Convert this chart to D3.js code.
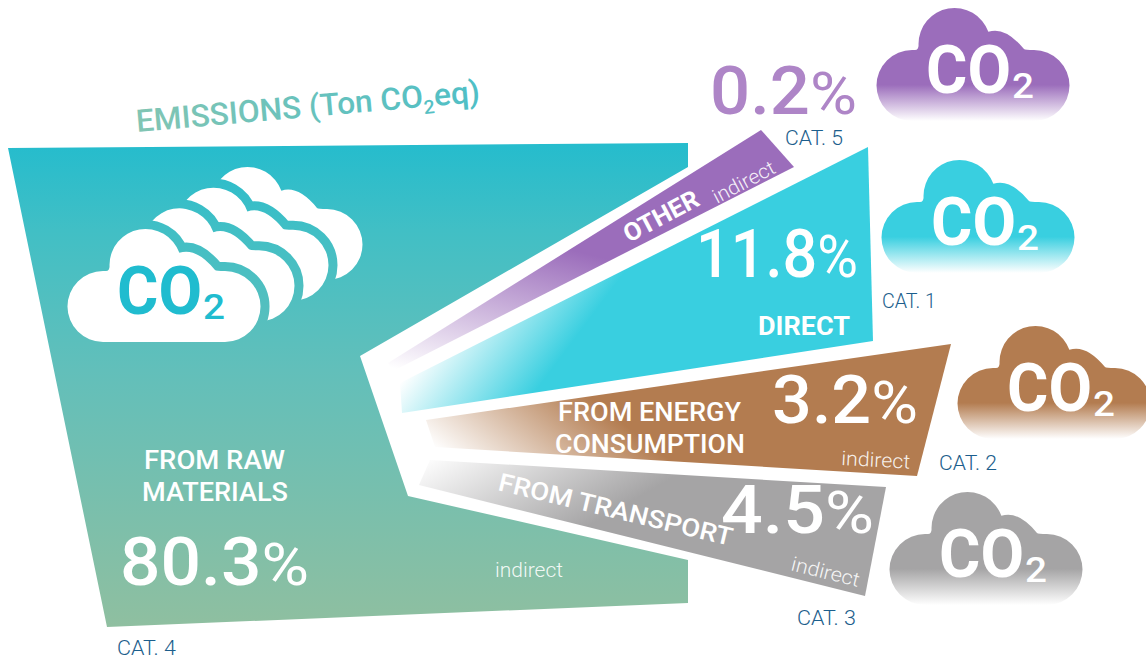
<!DOCTYPE html>
<html>
<head>
<meta charset="utf-8">
<script src="https://cdn.jsdelivr.net/npm/d3@7"></script>
<style>
  html, body { margin: 0; padding: 0; background: #fff; overflow: hidden; }
  text { font-family: Roboto, sans-serif; }
</style>
</head>
<body>
<div id="chart"></div>
<script>
// values
const keys = ["raw", "direct", "energy", "transport", "other"];
const shares = [80.3, 11.8, 3.2, 4.5, 0.2];
const cats = ["CAT. 4", "CAT. 1", "CAT. 2", "CAT. 3", "CAT. 5"];
const labelLines = [["FROM RAW", "MATERIALS"], ["DIRECT"], ["FROM ENERGY", "CONSUMPTION"], ["FROM TRANSPORT"], ["OTHER"]];
const scopeLabels = ["indirect", "", "indirect", "indirect", "indirect"];
const colors = ["#25bccd", "#39cfe0", "#b37c50", "#a5a4a5", "#9b6dbb"];

const width = 1146, height = 663;

// the wedges are drawn as an illustration, not to scale with the shares
const shapes = {
  raw: [[8, 148], [688, 143], [688, 167], [360, 356], [408, 496], [688, 560], [688, 603], [107, 627]],
  direct: [[868, 147], [873, 341], [402, 413], [400, 383]],
  energy: [[951, 344], [917, 476], [435, 447], [426, 420]],
  transport: [[886, 487], [865, 596], [419, 485], [430, 460]],
  other: [[761, 130], [794, 167], [393, 371], [388, 363]]
};
// start and end of each fade, white to full colour
const fades = {
  direct: [[400, 383], [491, 451]],
  energy: [[433, 447], [517, 340]],
  transport: [[428, 456], [498, 578]],
  other: [[392, 368], [430, 215]]
};
const cloudAt = { other: [877, 8], direct: [882, 160], energy: [958, 326], transport: [890, 492] };

// text boxes: x start, baseline, width, rotation
const shareBox = {
  raw: [120, 585, 189, 0], direct: [696, 277, 162, 0], energy: [772, 423, 146, 0],
  transport: [721, 533, 153, 0], other: [710, 114, 147, 0]
};
const nameBox = {
  raw: [[144, 469, 141, 0], [142, 501, 146, 0]],
  direct: [[758, 335, 92, 0]],
  energy: [[558, 421, 183, 0], [555, 453, 190, 0]],
  transport: [[497, 490, 240, 13.5]],
  other: [[629, 243, 82, -28]]
};
const scopeBox = {
  raw: [495, 577, 68, 0], energy: [841, 465, 69, 3],
  transport: [790, 570, 70, 14], other: [717, 204, 68, -28]
};
const catBox = {
  raw: [117, 655, 59], direct: [882, 308, 54], energy: [939, 470, 58],
  transport: [797, 625, 59], other: [785, 145, 58]
};

const svg = d3.select("#chart").append("svg")
  .attr("width", width)
  .attr("height", height)
  .style("display", "block");

const defs = svg.append("defs");

const mainGrad = defs.append("linearGradient")
  .attr("id", "grad-raw")
  .attr("gradientUnits", "userSpaceOnUse")
  .attr("x1", 0).attr("y1", 143).attr("x2", 0).attr("y2", 627);
mainGrad.append("stop").attr("offset", 0).attr("stop-color", colors[0]);
mainGrad.append("stop").attr("offset", 0.18).attr("stop-color", "#41bfc5");
mainGrad.append("stop").attr("offset", 0.47).attr("stop-color", "#62bfba");
mainGrad.append("stop").attr("offset", 1).attr("stop-color", "#8fbfa0");

keys.forEach((k, i) => {
  if (k === "raw") return;
  const f = fades[k];
  const g = defs.append("linearGradient")
    .attr("id", "grad-" + k)
    .attr("gradientUnits", "userSpaceOnUse")
    .attr("x1", f[0][0]).attr("y1", f[0][1]).attr("x2", f[1][0]).attr("y2", f[1][1]);
  g.append("stop").attr("offset", 0).attr("stop-color", colors[i]).attr("stop-opacity", 0);
  g.append("stop").attr("offset", 1).attr("stop-color", colors[i]);

  const c = defs.append("linearGradient")
    .attr("id", "cloud-" + k)
    .attr("x1", 0).attr("y1", 0).attr("x2", 0).attr("y2", 1);
  c.append("stop").attr("offset", 0.68).attr("stop-color", colors[i]);
  c.append("stop").attr("offset", 1).attr("stop-color", colors[i]).attr("stop-opacity", 0);
});

const titleGrad = defs.append("linearGradient").attr("id", "grad-title");
titleGrad.append("stop").attr("offset", 0).attr("stop-color", "#82c5b3");
titleGrad.append("stop").attr("offset", 1).attr("stop-color", "#4fbfc6");

// wedges
const line = d3.line().curve(d3.curveLinearClosed);
svg.append("g").selectAll("path")
  .data(keys)
  .join("path")
  .attr("d", k => line(shapes[k]))
  .attr("fill", k => `url(#grad-${k})`);

// cloud outline, 192 x 113, placed at x0,y0
function cloudD(x0, y0) {
  const p = d3.path();
  p.moveTo(x0 + 35, y0 + 113);
  p.arc(x0 + 35, y0 + 77.5, 35.5, Math.PI / 2, Math.PI * 1.5);
  p.lineTo(x0 + 38, y0 + 42);
  p.quadraticCurveTo(x0 + 42, y0 + 42, x0 + 41.5, y0 + 36);
  p.arc(x0 + 77.5, y0 + 36, 36, Math.PI, Math.PI * 1.89);
  p.quadraticCurveTo(x0 + 128, y0 + 18, x0 + 147, y0 + 41);
  p.quadraticCurveTo(x0 + 148, y0 + 42, x0 + 157, y0 + 42);
  p.arc(x0 + 157, y0 + 77.5, 35.5, -Math.PI / 2, Math.PI / 2);
  p.closePath();
  return p.toString();
}

// scales a text to the width it has in the picture
function fit(sel, box) {
  const w = sel.node().getComputedTextLength();
  const sx = box[2] / w;
  sel.attr("transform", `translate(${box[0]},${box[1]}) rotate(${box[3] || 0}) scale(${sx},1)`);
}

function co2(g, color) {
  const co = g.append("text")
    .attr("font-size", 66).attr("font-weight", 700).attr("fill", color).text("CO");
  fit(co, [49, 85, 85]);
  const two = g.append("text")
    .attr("font-size", 36).attr("font-weight", 500).attr("fill", color).text("2");
  fit(two, [135, 90, 22]);
}

// the stack of white clouds on the big wedge, back one first
const stack = d3.range(3, -1, -1);
const stackScale = d3.scaleLinear().domain([0, 3]).range([0, 102]);
const stackG = svg.append("g");
stackG.selectAll("path")
  .data(stack)
  .join("path")
  .attr("d", d => cloudD(68 + stackScale(d), 229 - stackScale(d) * 0.608))
  .attr("fill", "#fff")
  .attr("stroke", "url(#grad-raw)")
  .attr("stroke-width", 18)
  .attr("paint-order", "stroke");
co2(stackG.append("g").attr("transform", "translate(68,229)"), "#20bccf");

// coloured clouds
keys.filter(k => k !== "raw").forEach(k => {
  const g = svg.append("g").attr("transform", `translate(${cloudAt[k][0]},${cloudAt[k][1]})`);
  g.append("path").attr("d", cloudD(0, 0)).attr("fill", `url(#cloud-${k})`);
  co2(g, "#fff");
});

const pct = d3.format(".1f");

keys.forEach((k, i) => {
  // share
  const t = svg.append("text")
    .attr("font-size", 66)
    .attr("font-weight", 500)
    .attr("fill", k === "other" ? "#ae85c7" : "#fff");
  t.append("tspan").text(pct(shares[i]));
  t.append("tspan").attr("font-size", 60).attr("font-weight", 400).text("%");
  fit(t, shareBox[k]);

  // name
  labelLines[i].forEach((txt, j) => {
    const n = svg.append("text")
      .attr("font-size", 25)
      .attr("font-weight", k === "direct" || k === "other" ? 700 : 500)
      .attr("fill", "#fff")
      .text(txt);
    fit(n, nameBox[k][j]);
  });

  // direct / indirect
  if (scopeLabels[i]) {
    const s = svg.append("text")
      .attr("font-size", 20)
      .attr("font-weight", 300)
      .attr("fill", "#fff")
      .attr("fill-opacity", 0.9)
      .text(scopeLabels[i]);
    fit(s, scopeBox[k]);
  }

  // category
  const c = svg.append("text")
    .attr("font-size", 21)
    .attr("font-weight", 300)
    .attr("fill", "#1c5e8c")
    .text(cats[i]);
  fit(c, catBox[k]);
});

// title
const title = svg.append("text")
  .attr("font-size", 31)
  .attr("font-weight", 500)
  .attr("fill", "url(#grad-title)");
title.append("tspan").text("EMISSIONS (Ton CO");
title.append("tspan").attr("font-size", 19).attr("dy", 7).text("2");
title.append("tspan").attr("dy", -7).text("eq)");
fit(title, [137, 132, 345, -5]);
</script>
</body>
</html>
